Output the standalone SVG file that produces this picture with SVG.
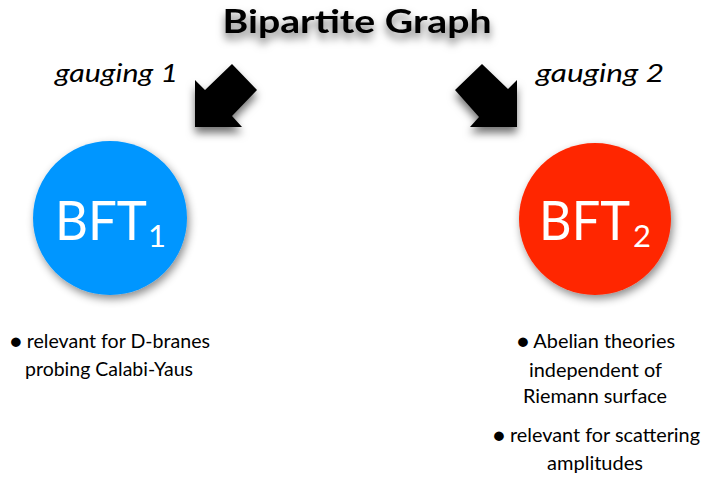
<svg xmlns="http://www.w3.org/2000/svg" width="701" height="481" viewBox="0 0 701 481">
<defs>
<filter id="sh" x="-30%" y="-30%" width="160%" height="180%">
<feDropShadow dx="0" dy="6" stdDeviation="4" flood-color="#000" flood-opacity="0.55"/>
</filter>
<filter id="csh" x="-20%" y="-20%" width="150%" height="150%">
<feDropShadow dx="2" dy="4" stdDeviation="4" flood-color="#000" flood-opacity="0.45"/>
</filter>
</defs>
<style>
.t{font-family:Lato,"Open Sans","Liberation Sans",sans-serif;fill:#000}
.title{font-size:32px;font-weight:bold}
.g{font-size:25px;font-style:italic}
.b{font-size:19px}
.bft{font-family:Lato,"Open Sans","Liberation Sans",sans-serif;fill:#fff;font-size:54px}
.sub{font-size:31px}
.arrow{fill:#000}
</style>
<g id="title">
<text class="t title" x="357" y="32.5" text-anchor="middle" textLength="269" lengthAdjust="spacingAndGlyphs" filter="url(#sh)">Bipartite Graph</text>
</g>
<g id="connectors">
<polygon class="arrow" filter="url(#sh)" points="195,80 205,90 232,64 257,90 232,116 242,127 195,127"/>
<polygon class="arrow" filter="url(#sh)" points="517,80 508,89 482,64 455,90 479,117 470,127 517,127"/>
</g>
<g id="label-gauging1">
<text class="t g" x="55" y="82" textLength="123" lengthAdjust="spacingAndGlyphs">gauging 1</text>
</g>
<g id="label-gauging2">
<text class="t g" x="536" y="82" textLength="128" lengthAdjust="spacingAndGlyphs">gauging 2</text>
</g>
<g id="bft1">
<circle cx="110" cy="218" r="77" fill="#0096FF" filter="url(#csh)"/>
<text class="bft" x="55" y="240"><tspan textLength="92" lengthAdjust="spacingAndGlyphs">BFT</tspan><tspan class="sub" x="148" y="247">1</tspan></text>
</g>
<g id="bft2">
<circle cx="595" cy="219" r="76" fill="#FF2600" filter="url(#csh)"/>
<text class="bft" x="539" y="240"><tspan textLength="91" lengthAdjust="spacingAndGlyphs">BFT</tspan><tspan class="sub" x="633" y="247">2</tspan></text>
</g>
<g id="text-left">
<text class="t b" x="10" y="348" textLength="200" lengthAdjust="spacingAndGlyphs">● relevant for D-branes</text>
<text class="t b" x="25" y="376" textLength="168" lengthAdjust="spacingAndGlyphs">probing Calabi-Yaus</text>
</g>
<g id="text-right">
<text class="t b" x="517" y="348" textLength="158" lengthAdjust="spacingAndGlyphs">● Abelian theories</text>
<text class="t b" x="529" y="377" textLength="133" lengthAdjust="spacingAndGlyphs">independent of</text>
<text class="t b" x="523" y="403" textLength="144" lengthAdjust="spacingAndGlyphs">Riemann surface</text>
<text class="t b" x="493" y="442" textLength="207" lengthAdjust="spacingAndGlyphs">● relevant for scattering</text>
<text class="t b" x="547" y="470" textLength="96" lengthAdjust="spacingAndGlyphs">amplitudes</text>
</g>
</svg>
